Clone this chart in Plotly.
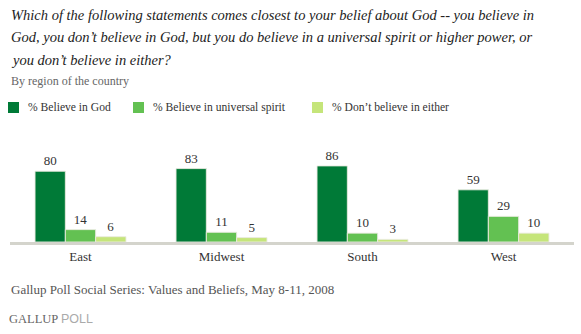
import plotly.graph_objects as go

categories = ["East", "Midwest", "South", "West"]
series_names = ["% Believe in God", "% Believe in universal spirit", "% Don\u2019t believe in either"]
believe_god = [80, 83, 86, 59]
universal_spirit = [14, 11, 10, 29]
neither = [6, 5, 3, 10]
colors = ["#007a37", "#63c152", "#c5e57a"]

title_lines = [
    "Which of the following statements comes closest to your belief about God -- you believe in",
    "God, you don\u2019t believe in God, but you do believe in a universal spirit or higher power, or",
    "you don\u2019t believe in either?",
]
subtitle = "By region of the country"
source = "Gallup Poll Social Series: Values and Beliefs, May 8-11, 2008"

W, H = 581, 334
L, R, T, B = 10, 7, 150, 92
PW = W - L - R
PH = H - T - B

def px(x):
    return (x - L) / PW

def py(y):
    return (H - B - y) / PH

SERIF = "Liberation Serif"

fig = go.Figure()
for name, vals, c in zip(series_names, [believe_god, universal_spirit, neither], colors):
    fig.add_trace(go.Bar(
        x=categories, y=vals, name=name,
        marker=dict(color=c, line=dict(color="rgba(235,235,225,0.9)", width=1)),
        text=[str(v) for v in vals], textposition="outside",
        textfont=dict(family=SERIF, size=13, color="#333333"),
        cliponaxis=False, showlegend=False,
    ))

annotations = []
for i, line in enumerate(title_lines):
    annotations.append(dict(
        text="<i>" + line + "</i>", x=px(9), y=py([15, 37.5, 60][i]),
        xref="paper", yref="paper",
        xanchor="left", yanchor="middle", showarrow=False,
        font=dict(family=SERIF, size=14.5, color="#222222"),
    ))
annotations.append(dict(text=subtitle, x=px(9), y=py(81), xref="paper", yref="paper",
                        xanchor="left", yanchor="middle", showarrow=False,
                        font=dict(family=SERIF, size=12, color="#666666")))

shapes = []
sq_x = [8, 133, 312]
for name, c, sx in zip(series_names, colors, sq_x):
    shapes.append(dict(type="rect", xref="paper", yref="paper",
                       x0=px(sx), x1=px(sx + 11), y0=py(113), y1=py(102),
                       fillcolor=c, line=dict(width=0)))
    annotations.append(dict(text=name, x=px(sx + 18), y=py(107.5), xref="paper", yref="paper",
                            xanchor="left", yanchor="middle", showarrow=False,
                            font=dict(family=SERIF, size=11.6, color="#333333")))

annotations.append(dict(text=source, x=px(9), y=py(289), xref="paper", yref="paper",
                        xanchor="left", yanchor="middle", showarrow=False,
                        font=dict(family=SERIF, size=13, color="#555555")))
annotations.append(dict(text="<span style='font-family:Liberation Serif;color:#666666'>GALLUP</span> "
                             "<span style='font-family:Liberation Sans;color:#aaaaaa'>POLL</span>",
                        x=px(7), y=py(319), xref="paper", yref="paper",
                        xanchor="left", yanchor="middle", showarrow=False,
                        font=dict(family=SERIF, size=12.5, color="#666666")))

fig.update_layout(
    width=W, height=H, margin=dict(l=L, r=R, t=T, b=B),
    paper_bgcolor="white", plot_bgcolor="white",
    barmode="group", bargap=0.355, bargroupgap=0,
    annotations=annotations, shapes=shapes,
    xaxis=dict(showline=True, linecolor="#d4d4cc", linewidth=3, ticks="",
               tickfont=dict(family=SERIF, size=13, color="#333333"), showgrid=False,
               fixedrange=True),
    yaxis=dict(range=[0, 104], visible=False, showgrid=False, zeroline=False, fixedrange=True),
)

fig.write_html("out.html", config={"displayModeBar": False})
